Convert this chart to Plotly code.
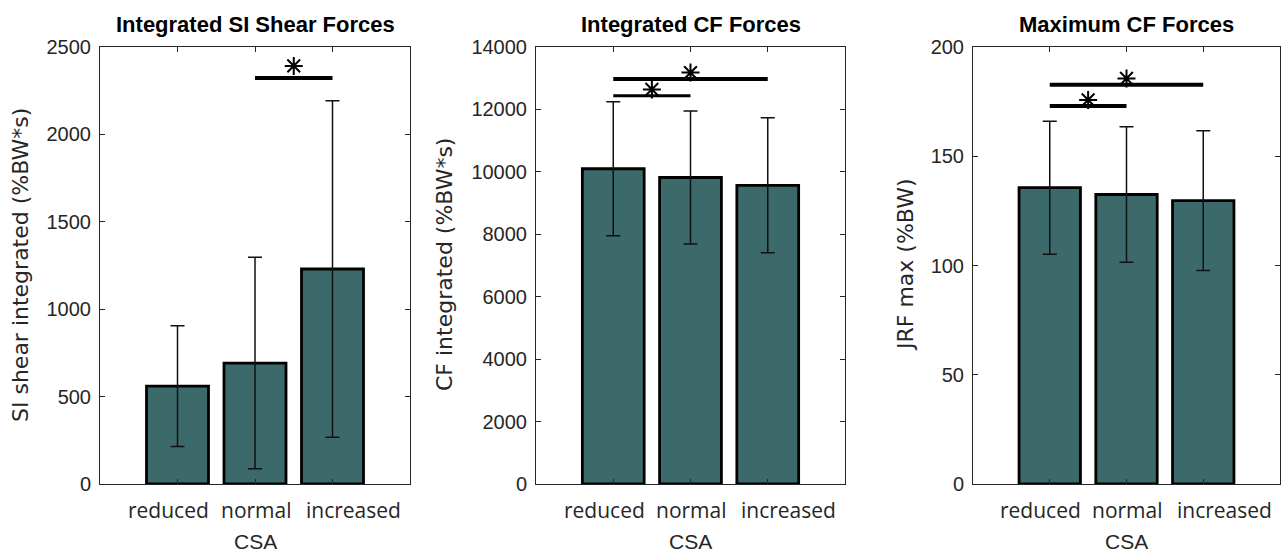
import plotly.graph_objects as go

# ---------------- data ----------------
categories = ["reduced", "normal", "increased"]
x_pos = [1, 2, 3]

titles = ["Integrated SI Shear Forces", "Integrated CF Forces", "Maximum CF Forces"]
y_titles = ["SI shear integrated (%BW*s)", "CF integrated (%BW*s)", "JRF max (%BW)"]
x_title = "CSA"

si_mean = [560, 692, 1230]
si_sd = [345, 605, 962]
cf_int_mean = [10100, 9820, 9570]
cf_int_sd = [2150, 2130, 2160]
cf_max_mean = [135.6, 132.5, 129.7]
cf_max_sd = [30.4, 31.0, 32.0]

y_ranges = [[0, 2500], [0, 14000], [0, 200]]
y_dticks = [500, 2000, 50]

# significance brackets: (x pair, height)
si_sig_x = [[2, 3]]
si_sig_y = [2322]
si_star_x = [2.5]
si_star_y = [2392]

cfi_sig_x = [[1, 2], [1, 3]]
cfi_sig_y = [12440, 12975]
cfi_star_x = [1.5, 2.0]
cfi_star_y = [12640, 13180]

cfm_sig_x = [[1, 2], [1, 3]]
cfm_sig_y = [173.0, 182.7]
cfm_star_x = [1.5, 2.0]
cfm_star_y = [175.8, 185.6]

means = [si_mean, cf_int_mean, cf_max_mean]
sds = [si_sd, cf_int_sd, cf_max_sd]
sig_x = [si_sig_x, cfi_sig_x, cfm_sig_x]
sig_y = [si_sig_y, cfi_sig_y, cfm_sig_y]
star_x = [si_star_x, cfi_star_x, cfm_star_x]
star_y = [si_star_y, cfi_star_y, cfm_star_y]
sig_widths = [[4], [3, 4], [4, 4]]

# ---------------- layout constants ----------------
W, H = 1282, 555
ML, MR, MT, MB = 100, 2, 47, 71
PW = W - ML - MR
PH = H - MT - MB
panel_px = [(100, 410), (536, 845), (973, 1280)]
ytitle_px = [20, 444, 905]
label_shift = [-9, 1, 21]

BAR_COLOR = "#3c6a6a"
AX_COLOR = "#262626"

fig = go.Figure()

for i in range(3):
    xa = "x" if i == 0 else f"x{i+1}"
    ya = "y" if i == 0 else f"y{i+1}"
    fig.add_trace(go.Bar(
        x=x_pos, y=means[i], width=0.8,
        marker=dict(color=BAR_COLOR, line=dict(color="black", width=2.8)),
        error_y=dict(type="data", array=sds[i], visible=True,
                     color="#111111", thickness=1.5, width=7),
        xaxis=xa, yaxis=ya, showlegend=False,
    ))
    for (xs, yv, lw) in zip(sig_x[i], sig_y[i], sig_widths[i]):
        fig.add_trace(go.Scatter(
            x=xs, y=[yv, yv], mode="lines",
            line=dict(color="black", width=lw),
            xaxis=xa, yaxis=ya, showlegend=False, hoverinfo="skip",
        ))
    fig.add_trace(go.Scatter(
        x=star_x[i], y=star_y[i], mode="markers",
        marker=dict(symbol="asterisk-open", size=15, color="black",
                    line=dict(color="black", width=2)),
        xaxis=xa, yaxis=ya, showlegend=False, hoverinfo="skip",
    ))

layout = dict(
    width=W, height=H,
    margin=dict(l=ML, r=MR, t=MT, b=MB, pad=0),
    paper_bgcolor="white", plot_bgcolor="white",
    font=dict(family="Liberation Sans, Arial, sans-serif", color=AX_COLOR),
)

annotations = []
for i in range(3):
    x0, x1 = panel_px[i]
    dom = [(x0 - ML) / PW, min(1.0, (x1 - ML) / PW)]
    sfx = "" if i == 0 else str(i + 1)
    layout["xaxis" + sfx] = dict(
        domain=dom, range=[0, 4], tickvals=x_pos, showticklabels=False,
        ticks="inside", ticklen=5, tickcolor=AX_COLOR, mirror="allticks",
        showline=True, linecolor=AX_COLOR, linewidth=1,
        showgrid=False, zeroline=False, anchor="y" + sfx, fixedrange=True,
    )
    layout["yaxis" + sfx] = dict(
        domain=[0, 1], range=y_ranges[i], dtick=y_dticks[i], tickformat="d",
        ticks="inside", ticklen=5, tickcolor=AX_COLOR, mirror="allticks",
        showline=True, linecolor=AX_COLOR, linewidth=1,
        showgrid=False, zeroline=False, anchor="x" + sfx,
        tickfont=dict(size=20, family="Liberation Sans, Arial, sans-serif", color=AX_COLOR),
        ticklabelstandoff=4, fixedrange=True,
    )
    xc = ((x0 + x1) / 2 - ML) / PW
    # panel title
    annotations.append(dict(
        text="<b>" + titles[i] + "</b>", xref="paper", yref="paper",
        x=xc, y=(H - MB - 25) / PH, xanchor="center", yanchor="middle",
        showarrow=False, font=dict(size=22, color="black",
                                   family="Liberation Sans, Arial, sans-serif"),
    ))
    # y-axis title
    annotations.append(dict(
        text=y_titles[i], xref="paper", yref="paper",
        x=(ytitle_px[i] - ML) / PW, y=((H - MB) - 265) / PH,
        xanchor="center", yanchor="middle", textangle=-90,
        showarrow=False, font=dict(size=22, color=AX_COLOR,
                                   family="DejaVu Sans, sans-serif"),
    ))
    # category labels
    for j, cat in enumerate(categories):
        annotations.append(dict(
            text=cat, xref="x" + sfx, yref="paper",
            x=x_pos[j], y=-26 / PH, xshift=label_shift[j],
            xanchor="center", yanchor="middle", showarrow=False,
            font=dict(size=21, color=AX_COLOR, family="Open Sans, sans-serif"),
        ))
    # x-axis title
    annotations.append(dict(
        text=x_title, xref="paper", yref="paper",
        x=xc, y=-57 / PH, xanchor="center", yanchor="middle",
        showarrow=False, font=dict(size=21, color=AX_COLOR,
                                   family="Liberation Sans, Arial, sans-serif"),
    ))

layout["annotations"] = annotations
fig.update_layout(**layout)

fig.write_html("out.html", config={"displayModeBar": False},
               post_script="document.body.style.margin='0';")
